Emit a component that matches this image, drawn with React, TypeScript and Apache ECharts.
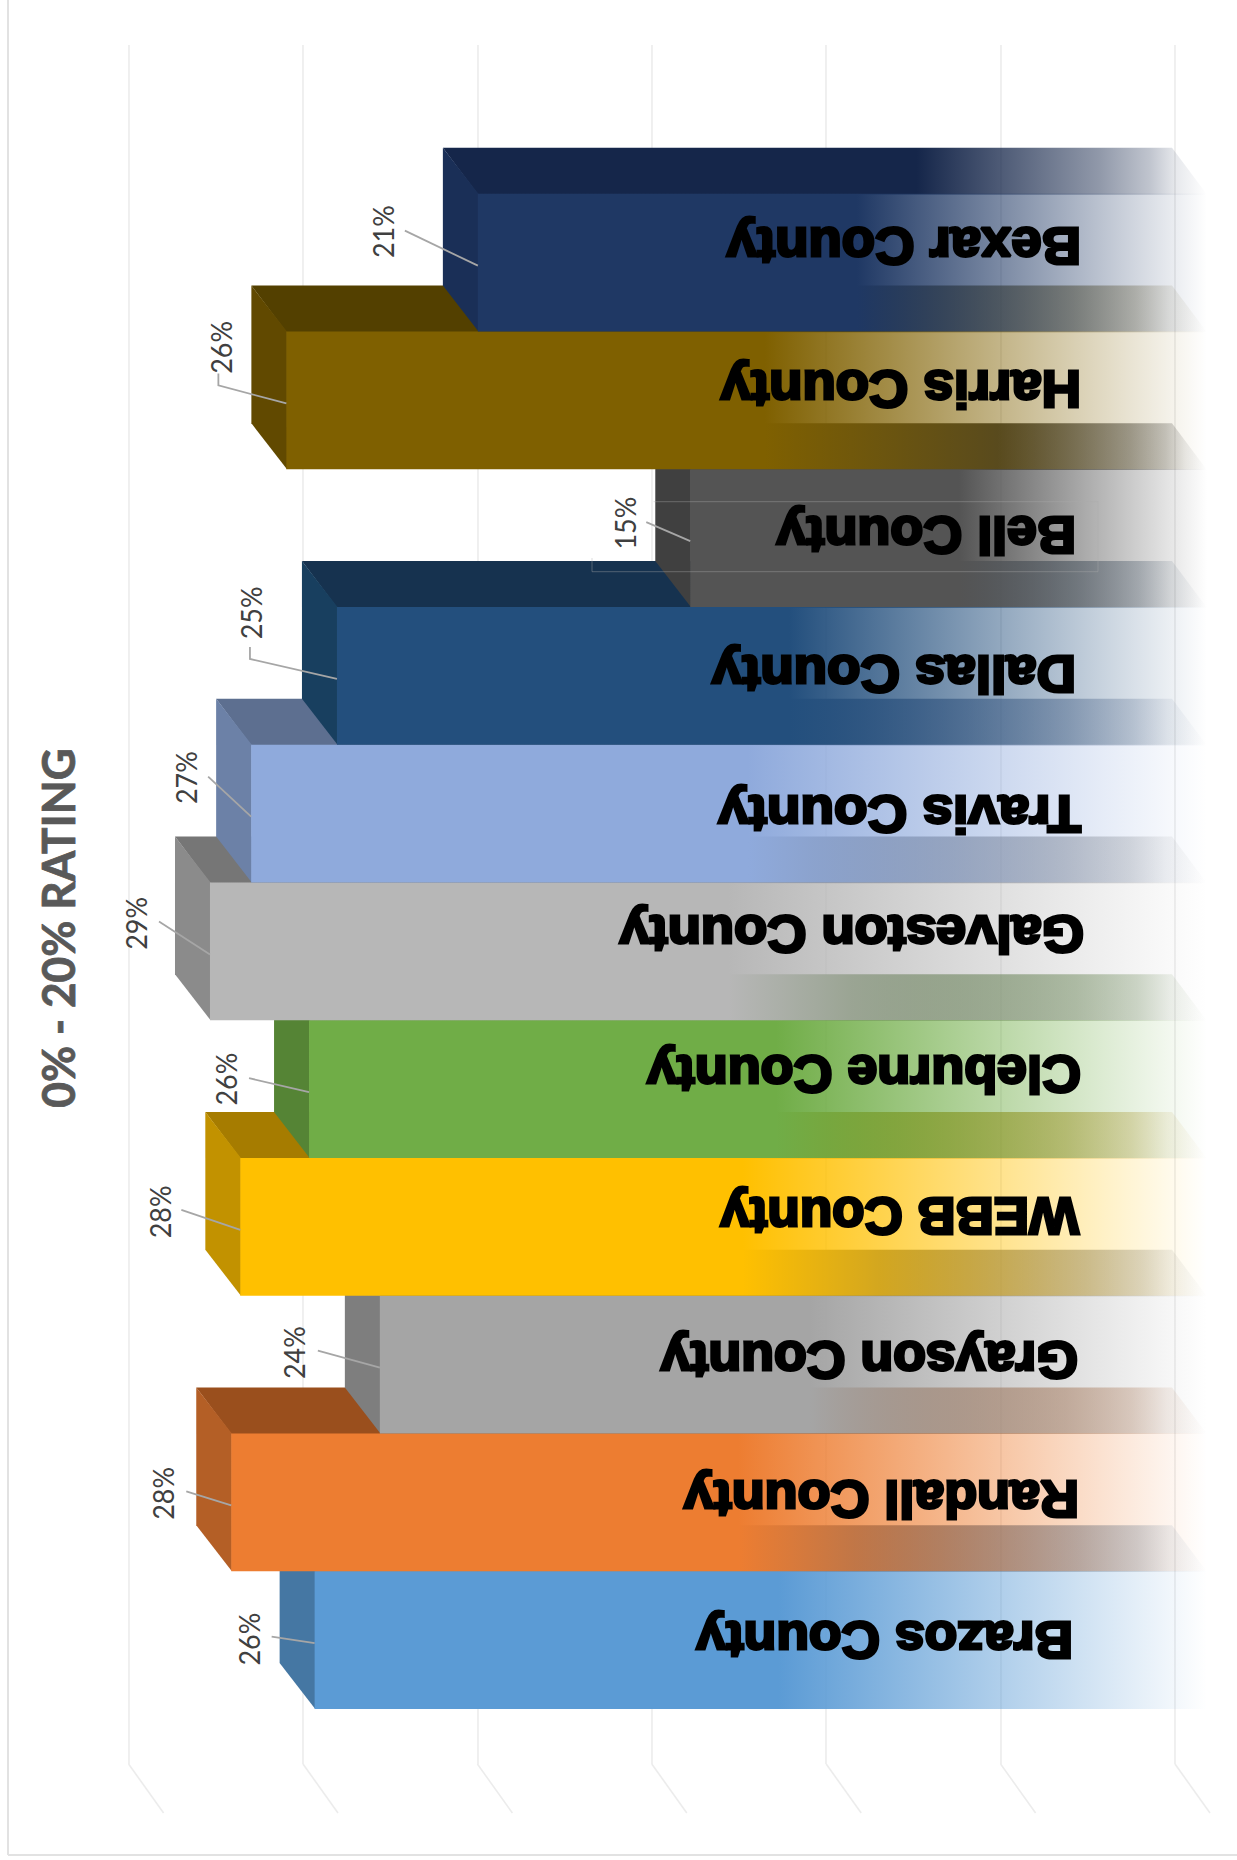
import React, { useEffect, useRef } from "react";
import * as echarts from "echarts";

const chartTitle = "0% - 20% RATING";
const categories = ["Brazos County", "Randall County", "Grayson County", "WEBB County", "Cleburne County", "Galveston County", "Travis County", "Dallas County", "Bell County", "Harris County", "Bexar County"];
const values = [25.67, 28.06, 23.8, 27.8, 25.83, 28.67, 27.49, 25.03, 14.9, 26.48, 20.99];
const ticks = [0, 5, 10, 15, 20, 25, 30];

const frontColors = ["#5b9bd5", "#ed7d31", "#a5a5a5", "#ffc000", "#70ad47", "#b7b7b7", "#8faadc", "#234f7d", "#545454", "#7f6000", "#1f3864"];
const sideColors = ["#4577a3", "#b45f26", "#7e7e7e", "#c29200", "#558435", "#8b8b8b", "#6c81a7", "#183f5f", "#404040", "#614900", "#1a2f57"];
const topColors = ["#3a6289", "#9a4f1d", "#6a6a6a", "#a67c00", "#486f2d", "#767676", "#5d6f90", "#16324f", "#373737", "#534000", "#15264a"];

// Layout of the texts (pixels), kept apart from the data
const nameRight = [1073, 1079, 1078, 1079, 1081, 1084, 1081, 1076, 1076, 1081, 1081];
const nameScale = [1.09, 1.1, 1.095, 1.08, 1.1, 1.108, 1.12, 1.115, 1.1, 1.112, 1.112];
const nameBaseline = [50.3, 46.5, 46.2, 39.3, 35.7, 33.3, 51.2, 48.6, 47.5, 39, 33.6];
const leaderStartDx = [-43, -45, -62, -59, -60, -51, -43, -87, -44, -68, -73];
const leaderStartDy = [-6.5, -14, -17, -20, -14, -33, -40, -20, -19, -18, -35];
const leaderElbow = [0, 0, 0, 0, 0, 0, 0, 1, 0, 1, 0];
const percentDx = [-66, -69, -86, -81, -83, -74, -66, -86, -66, -66, -95];
const percentDy = [-4, -12, -15, -18, -13, -31, -39, -66, -18, -56, -34];

const DX = 35;
const DY = 46;
const RIGHT = 1207;
const CAP_MID = 18;
const SEAM = 0.6;

function rgba(hex: string, a: number) {
  const n = parseInt(hex.slice(1), 16);
  return `rgba(${(n >> 16) & 255},${(n >> 8) & 255},${n & 255},${a})`;
}

function fade(c: string, x0: number, stops: number[][]) {
  return new echarts.graphic.LinearGradient(
    x0, 0, RIGHT, 0,
    [{ offset: 0, color: rgba(c, 1) }, ...stops.map(([o, a]) => ({ offset: o, color: rgba(c, a) }))],
    true
  );
}

const frontFade = [[0.52, 1], [1, 0]];
const topFade = [[0.62, 1], [0.86, 0.47], [0.925, 0.27], [0.96, 0.1], [1, 0]];

function renderBar(params: any, api: any) {
  const i = params.dataIndex;
  const p = api.coord([api.value(0), api.value(1)]);
  const h = api.size([0, 1])[1];
  const xf = p[0];
  const y0 = p[1] - h / 2;
  const y1 = p[1] + h / 2;
  return {
    type: "group",
    children: [
      {
        type: "polygon",
        shape: { points: [[xf - DX, y0 - DY], [RIGHT - DX, y0 - DY], [RIGHT, y0 + SEAM], [xf, y0 + SEAM]] },
        style: { fill: fade(topColors[i], xf - DX, topFade) },
      },
      {
        type: "polygon",
        shape: { points: [[xf - DX, y0 - DY], [xf + SEAM, y0], [xf + SEAM, y1], [xf - DX, y1 - DY]] },
        style: { fill: sideColors[i] },
      },
      {
        type: "rect",
        shape: { x: xf, y: y0, width: RIGHT - xf, height: h },
        style: { fill: fade(frontColors[i], xf, frontFade) },
      },
    ],
  };
}

function renderLabel(params: any, api: any) {
  const i = params.dataIndex;
  const p = api.coord([api.value(0), api.value(1)]);
  const h = api.size([0, 1])[1];
  const xf = p[0];
  const y0 = p[1] - h / 2;
  const ey = p[1] + 3;
  const sx = xf + leaderStartDx[i];
  const sy = ey + leaderStartDy[i];
  const pts = leaderElbow[i]
    ? [[sx, sy - 12], [sx, sy], [xf, ey]]
    : [[sx, sy], [xf, ey]];
  return {
    type: "group",
    children: [
      {
        type: "polyline",
        shape: { points: pts },
        style: { stroke: "#a6a6a6", lineWidth: 1.8, fill: "none" },
      },
      {
        type: "text",
        x: xf + percentDx[i],
        y: ey + percentDy[i],
        rotation: Math.PI / 2,
        scaleX: 0.93,
        style: {
          text: `${Math.round(api.value(0))}%`,
          fontFamily: "Lato",
          fontSize: 29,
          fill: "#404040",
          textAlign: "center",
          textVerticalAlign: "middle",
        },
      },
      {
        type: "text",
        x: nameRight[i],
        y: y0 + nameBaseline[i] + CAP_MID,
        rotation: Math.PI,
        scaleX: nameScale[i],
        scaleY: 1.04,
        style: {
          text: categories[i],
          fontFamily: "Liberation Sans",
          fontWeight: "bold",
          fontSize: 49,
          fill: "#000000",
          stroke: "#000000",
          lineWidth: 2.8,
          textAlign: "left",
          textVerticalAlign: "middle",
        },
      },
    ],
  };
}

function renderFloor(_params: any, api: any) {
  const p = api.coord([api.value(0), 0]);
  return {
    type: "line",
    shape: { x1: p[0], y1: p[1], x2: p[0] + DX, y2: p[1] + 49 },
    style: { stroke: "#ececec", lineWidth: 1.6 },
  };
}

export default function App() {
  const ref = useRef<HTMLDivElement>(null);
  useEffect(() => {
    const chart = echarts.init(ref.current!, undefined, { renderer: "svg" });
    const hiddenValueAxis = {
      type: "value",
      inverse: true,
      min: 0,
      max: 30,
      interval: 5,
      axisLine: { show: false },
      axisTick: { show: false },
      axisLabel: { show: false },
    };
    chart.setOption({
      animation: false,
      backgroundColor: "#ffffff",
      grid: [
        { left: 163.6, width: 1046.4, top: 193.8, height: 1515.2 },
        { left: 128.6, width: 1046.4, top: 45, height: 1719 },
      ],
      xAxis: [
        { ...hiddenValueAxis, gridIndex: 0, splitLine: { show: false } },
        { ...hiddenValueAxis, gridIndex: 1, splitLine: { show: true, lineStyle: { color: "#ececec", width: 1.6 } } },
      ],
      yAxis: [
        { type: "category", gridIndex: 0, data: categories, show: false },
        { type: "value", gridIndex: 1, min: 0, max: 1, show: false, splitLine: { show: false } },
      ],
      series: [
        {
          type: "custom",
          name: "floor",
          xAxisIndex: 1,
          yAxisIndex: 1,
          z: 1,
          silent: true,
          data: ticks.map((t) => [t, 0]),
          encode: { x: 0, y: 1 },
          renderItem: renderFloor,
        },
        {
          type: "custom",
          name: "bars",
          xAxisIndex: 0,
          yAxisIndex: 0,
          z: 3,
          silent: true,
          data: values.map((v, i) => [v, i]),
          encode: { x: 0, y: 1 },
          renderItem: renderBar,
        },
        {
          type: "custom",
          name: "labels",
          xAxisIndex: 0,
          yAxisIndex: 0,
          z: 4,
          silent: true,
          data: values.map((v, i) => [v, i]),
          encode: { x: 0, y: 1 },
          renderItem: renderLabel,
        },
      ],
      graphic: {
        elements: [
          { type: "line", z: 0, shape: { x1: 8, y1: 0, x2: 8, y2: 1855 }, style: { stroke: "#e2e2e2", lineWidth: 2 } },
          { type: "line", z: 0, shape: { x1: 8, y1: 1855, x2: 1237, y2: 1855 }, style: { stroke: "#e2e2e2", lineWidth: 2 } },
          {
            type: "polyline",
            z: 10,
            shape: { points: [[653.6, 501.7], [1098, 501.7], [1098, 571.7], [592, 571.7], [592, 558]] },
            style: { stroke: "rgba(170,170,170,0.4)", lineWidth: 1, fill: "none" },
          },
          {
            type: "text",
            z: 10,
            x: 58,
            y: 928,
            rotation: Math.PI / 2,
            scaleX: 0.96,
            style: {
              text: chartTitle,
              fontFamily: "Lato",
              fontWeight: "bold",
              fontSize: 46,
              fill: "#595959",
              stroke: "#595959",
              lineWidth: 0.8,
              textAlign: "center",
              textVerticalAlign: "middle",
            },
          },
        ],
      },
    });
    return () => chart.dispose();
  }, []);
  return <div ref={ref} style={{ position: "absolute", left: 0, top: 0, width: 1237, height: 1860 }} />;
}
